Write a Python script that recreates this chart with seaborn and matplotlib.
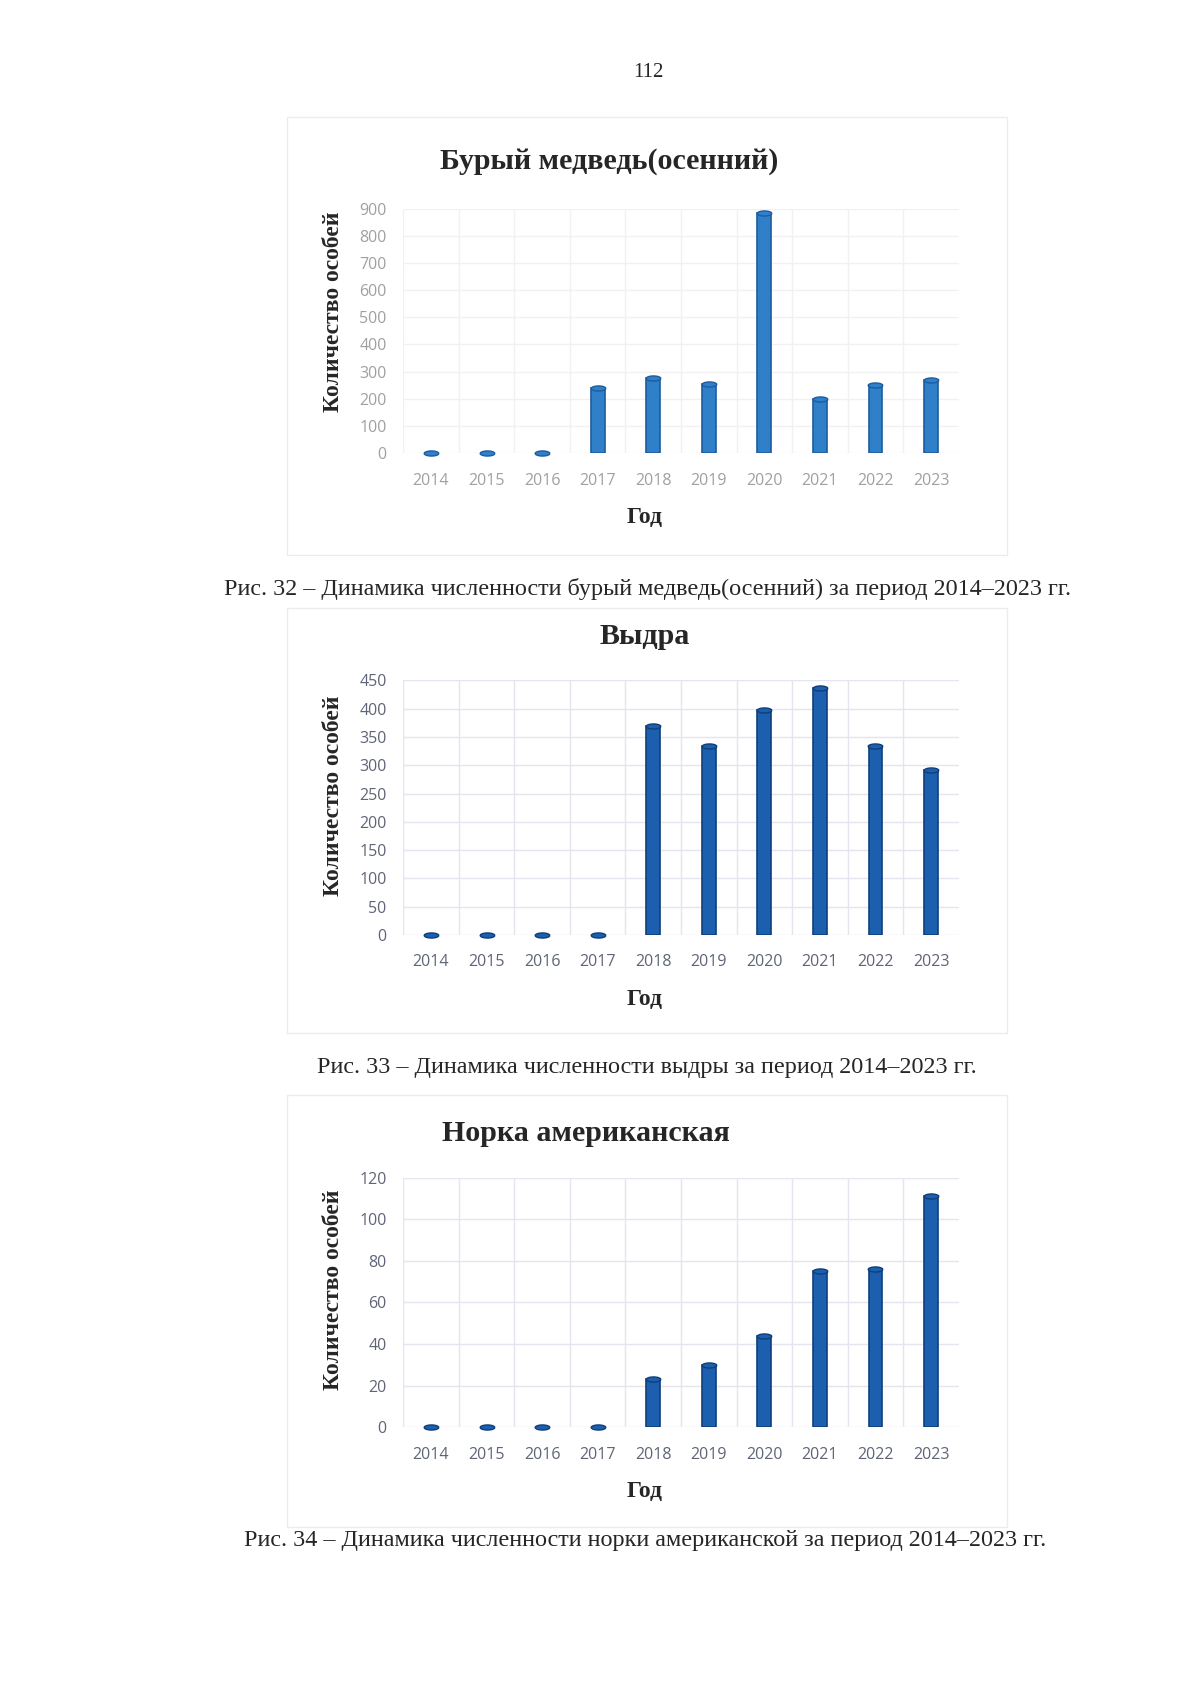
import numpy as np
import pandas as pd
import matplotlib
matplotlib.use('Agg')
import matplotlib.pyplot as plt
import seaborn as sns
from matplotlib.patches import Rectangle

# Данные
years = ['2014', '2015', '2016', '2017', '2018', '2019', '2020', '2021', '2022', '2023']
medved = [0, 0, 0, 240, 275, 255, 885, 200, 252, 270]
vydra = [0, 0, 0, 0, 370, 335, 397, 437, 335, 292]
norka = [0, 0, 0, 0, 23, 30, 44, 75, 76, 111]

titles = ['Бурый медведь(осенний)', 'Выдра', 'Норка американская']
captions = [
    'Рис. 32 – Динамика численности бурый медведь(осенний) за период 2014–2023 гг.',
    'Рис. 33 – Динамика численности выдры за период 2014–2023 гг.',
    'Рис. 34 – Динамика численности норки американской за период 2014–2023 гг.',
]

sns.set_style('white')
plt.rcParams['font.family'] = ['Liberation Serif', 'DejaVu Serif']

fig = plt.figure(figsize=(12, 16.97), dpi=100)
fig.patch.set_facecolor('white')

# эллипс для "крышки" цилиндра
t = np.linspace(0, 2 * np.pi, 40)
cap = np.column_stack([np.cos(t), 0.35 * np.sin(t)])

charts = [
    dict(data=medved, ymax=900, step=100, color='#2f7fc9', edge='#1d5d9e', tick='#a0a0a0',
         grid='#f1f1f4',
         ax=[0.336, 0.733, 0.463, 0.144], box=[0.239, 0.673, 0.600, 0.258],
         title=(0.508, 0.905), ylab=(0.2775, 0.816), xlab=(0.537, 0.695), cap=(0.54, 0.653)),
    dict(data=vydra, ymax=450, step=50, color='#1c5fae', edge='#0f3f7a', tick='#5f6577',
         grid='#e4e5ee',
         ax=[0.336, 0.449, 0.463, 0.150], box=[0.239, 0.391, 0.600, 0.251],
         title=(0.537, 0.625), ylab=(0.2775, 0.531), xlab=(0.537, 0.411), cap=(0.539, 0.371)),
    dict(data=norka, ymax=120, step=20, color='#1c5fae', edge='#0f3f7a', tick='#5f6577',
         grid='#e4e5ee',
         ax=[0.336, 0.159, 0.463, 0.147], box=[0.239, 0.100, 0.600, 0.255],
         title=(0.488, 0.332), ylab=(0.2775, 0.240), xlab=(0.537, 0.121), cap=(0.538, 0.0925)),
]

for i, c in enumerate(charts):
    # рамка диаграммы
    fig.patches.append(Rectangle((c['box'][0], c['box'][1]), c['box'][2], c['box'][3],
                                 transform=fig.transFigure, fill=False,
                                 edgecolor='#ececec', linewidth=1.0))
    ax = fig.add_axes(c['ax'])
    df = pd.DataFrame({'Год': years, 'Количество': c['data']})
    sns.barplot(data=df, x='Год', y='Количество', color=c['color'], width=0.25,
                edgecolor=c['edge'], linewidth=1.2, saturation=1, ax=ax, zorder=3)
    ax.scatter(range(len(years)), c['data'], marker=cap, s=110, color=c['color'],
               edgecolors=c['edge'], linewidths=1.0, zorder=4, clip_on=False)
    ax.set_ylim(0, c['ymax'])
    ax.set_xlim(-0.5, len(years) - 0.5)
    ax.set_yticks(np.arange(0, c['ymax'] + 1, c['step']))
    ax.set_xticks(np.arange(len(years)) - 0.5, minor=True)
    ax.grid(True, axis='y', color=c['grid'], linewidth=1.0, zorder=0)
    ax.grid(True, axis='x', which='minor', color=c['grid'], linewidth=1.0, zorder=0)
    ax.grid(False, axis='x', which='major')
    for s in ax.spines.values():
        s.set_visible(False)
    ax.tick_params(axis='both', which='both', length=0)
    ax.tick_params(axis='x', pad=14)
    ax.tick_params(axis='y', pad=12)
    for lab in ax.get_xticklabels() + ax.get_yticklabels():
        lab.set_family(['Open Sans', 'DejaVu Sans'])
        lab.set_fontsize(11.5)
        lab.set_color(c['tick'])
    ax.set_xlabel('')
    ax.set_ylabel('')

    fig.text(c['title'][0], c['title'][1], titles[i], ha='center', va='center',
             fontsize=21.6, fontweight='bold')
    fig.text(c['ylab'][0], c['ylab'][1], 'Количество особей', ha='center', va='center',
             rotation=90, fontsize=17, fontweight='bold')
    fig.text(c['xlab'][0], c['xlab'][1], 'Год', ha='center', va='center',
             fontsize=17, fontweight='bold')
    fig.text(c['cap'][0], c['cap'][1], captions[i], ha='center', va='center', fontsize=17.4)

fig.text(0.54, 0.957, '112', ha='center', va='center', fontsize=15)

plt.savefig('out.png', dpi=100)
